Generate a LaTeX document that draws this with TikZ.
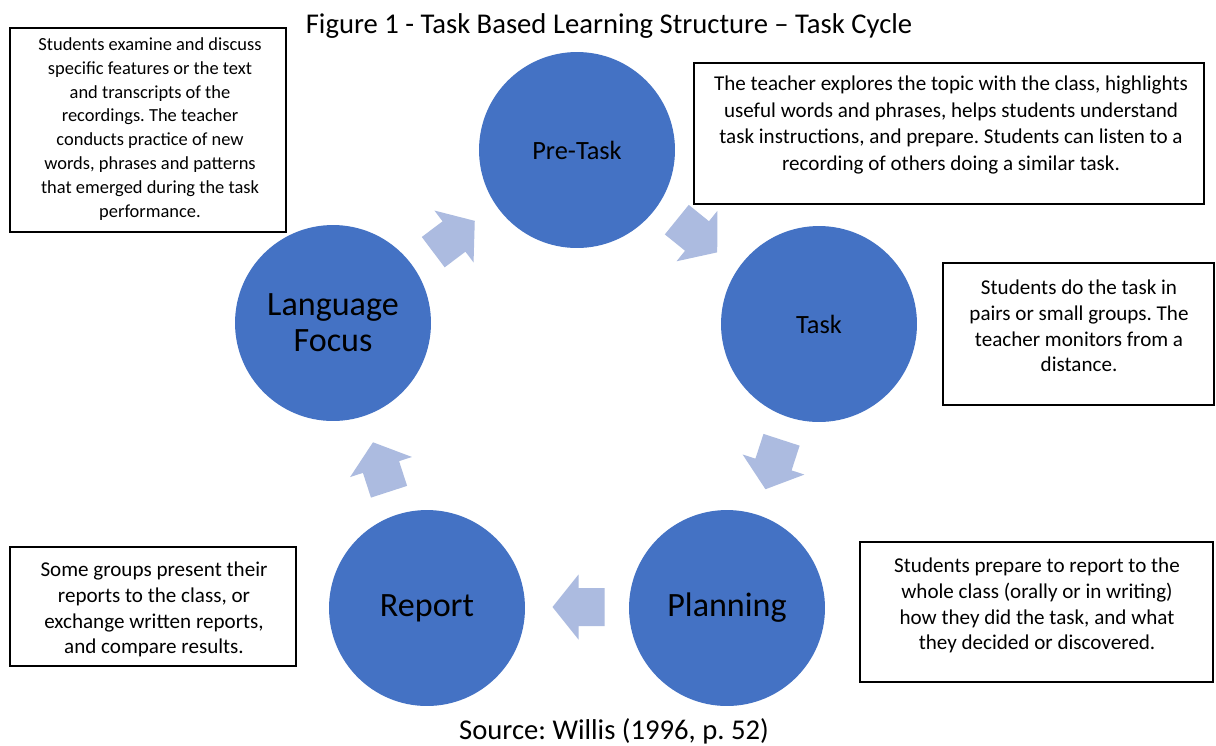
\documentclass[tikz,border=0pt]{standalone}
\usepackage{fontspec}
\setmainfont{Carlito}
\frenchspacing
\definecolor{circblue}{HTML}{4472C4}
\definecolor{arrowblue}{HTML}{ACBBE0}
\tikzset{
  stage/.style={circle, fill=circblue, draw=none, minimum size=3.92cm, inner sep=0pt, align=center, text=black},
  smalllabel/.style={stage, font=\fontsize{15}{18}\selectfont},
  biglabel/.style={stage, font=\fontsize{19.4}{20.6}\selectfont},
  descbox/.style={draw=black, line width=0.9pt, fill=white, inner sep=0pt},
  desctext/.style={align=center, inner sep=0pt, font=\fontsize{12}{14.7}\selectfont},
  cyclearrow/.style={fill=arrowblue, draw=none},
}
\begin{document}
\begin{tikzpicture}[x=0.02cm, y=-0.02cm]
\useasboundingbox (0,0) rectangle (1216,745);
\fill[white] (0,0) rectangle (1216,745);

% title and source
\node[font=\fontsize{16.3}{19}\selectfont, inner sep=0pt] (title) at (609,26) {Figure 1 - Task Based Learning Structure -- Task Cycle};
\node[font=\fontsize{16.3}{19}\selectfont, inner sep=0pt] (source) at (614,731) {Source: Willis (1996, p. 52)};

% stages
\node[smalllabel] (pretask) at (577,150) {Pre-Task};
\node[smalllabel] (task) at (819,324) {Task};
\node[biglabel] (planning) at (727,608) {Planning};
\node[biglabel] (report) at (427,608) {Report};
\node[biglabel] (langfocus) at (333,323) {Language\\Focus};

% cycle arrows
\def\cyc{(-26,-19) -- (0,-19) -- (0,-32.5) -- (26,0) -- (0,32.5) -- (0,19) -- (-26,19) -- cycle}
\fill[cyclearrow, shift={(454,236.5)}, rotate=37] \cyc;
\fill[cyclearrow, shift={(697,236)}, rotate=-39] \cyc;
\fill[cyclearrow, shift={(773.5,464.5)}, rotate=-108] \cyc;
\fill[cyclearrow, shift={(578.5,607)}, rotate=180] \cyc;
\fill[cyclearrow, shift={(381,467)}, rotate=108] \cyc;

% description boxes
\node[descbox, minimum width=5.52cm, minimum height=4.08cm] (lfbox) at (148,130) {};
\node[desctext, font=\fontsize{10.5}{13.6}\selectfont] (lftext) at (150,129)
  {Students examine and discuss\\specific features or the text\\and transcripts of the\\recordings. The teacher\\conducts practice of new\\words, phrases and patterns\\that emerged during the task\\performance.};

\node[descbox, minimum width=10.2cm, minimum height=2.82cm] (ptbox) at (949,133.5) {};
\node[desctext, font=\fontsize{12}{15.2}\selectfont] (pttext) at (951,125)
  {The teacher explores the topic with the class, highlights\\useful words and phrases, helps students understand\\task instructions, and prepare. Students can listen to a\\recording of others doing a similar task.};

\node[descbox, minimum width=5.42cm, minimum height=2.84cm] (taskbox) at (1078.5,334) {};
\node[desctext] (tasktext) at (1079,326)
  {Students do the task in\\pairs or small groups. The\\teacher monitors from a\\distance.};

\node[descbox, minimum width=7.06cm, minimum height=2.8cm] (planbox) at (1036.5,612) {};
\node[desctext] (plantext) at (1037,605.5)
  {Students prepare to report to the\\whole class (orally or in writing)\\how they did the task, and what\\they decided or discovered.};

\node[descbox, minimum width=5.72cm, minimum height=2.38cm] (repbox) at (153,606.5) {};
\node[desctext] (reptext) at (154,609.5)
  {Some groups present their\\reports to the class, or\\exchange written reports,\\and compare results.};
\end{tikzpicture}
\end{document}
